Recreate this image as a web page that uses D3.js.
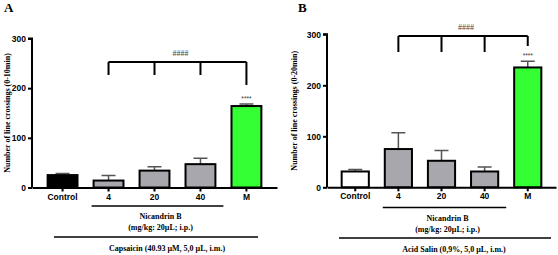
<!DOCTYPE html>
<html>
<head>
<meta charset="utf-8">
<script src="https://cdn.jsdelivr.net/npm/d3@7"></script>
<style>
  body { margin: 0; background: #fff; }
  svg { display: block; }
</style>
</head>
<body>
<script>
const categories = ["Control", "4", "20", "40", "M"];
const yTicks = [0, 100, 200, 300];

// panel A: capsaicin
const valuesA = [25, 14, 34, 47, 164];
const errorsA = [3, 10, 8, 12, 4];
// panel B: acid salin
const valuesB = [31, 75, 52, 31, 235];
const errorsB = [4, 32, 20, 9, 12];

const fills = ["#000000", "#a7a7ad", "#a7a7ad", "#a7a7ad", "#33ff33"];
const fillsB = ["#ffffff", "#a7a7ad", "#a7a7ad", "#a7a7ad", "#33ff33"];

const W = 558, H = 255;
const svg = d3.select("body").append("svg")
    .attr("width", W)
    .attr("height", H);

const sans = "'Liberation Sans', Arial, sans-serif";
const serif = "'Liberation Serif', 'Times New Roman', serif";

function drawPanel(p) {
    const g = svg.append("g");

    const x = d3.scaleBand()
        .domain(categories)
        .range([p.x0, p.x1])
        .paddingInner(p.pi)
        .paddingOuter(p.po);

    const y = d3.scaleLinear()
        .domain([0, 300])
        .range([p.yBottom, p.yTop]);

    // panel letter
    g.append("text")
        .attr("x", p.letterX).attr("y", 12)
        .attr("font-family", serif).attr("font-weight", "bold")
        .attr("font-size", 13)
        .text(p.letter);

    // y axis
    const yAxis = g.append("g")
        .attr("transform", `translate(${p.x0},0)`)
        .call(d3.axisLeft(y).tickValues(yTicks).tickSize(4).tickPadding(2));
    yAxis.select(".domain").attr("stroke-width", 2).attr("d", `M-4,${y(300)}H0V${y(0)}`);
    yAxis.selectAll(".tick line").attr("stroke-width", 2);
    yAxis.selectAll("text")
        .attr("font-family", sans).attr("font-weight", "bold")
        .attr("font-size", 8.5).attr("fill", "#000");

    g.append("text")
        .attr("transform", `translate(${p.yLabelX},${(y(0) + y(300)) / 2}) rotate(-90)`)
        .attr("text-anchor", "middle")
        .attr("font-family", serif).attr("font-weight", "bold")
        .attr("font-size", 8)
        .text(p.yLabel);

    // bars
    const data = categories.map((c, i) => ({ c: c, v: p.values[i], e: p.errors[i], f: p.fills[i] }));

    // error bars (upper only)
    const cx = d => x(d.c) + x.bandwidth() / 2;
    g.selectAll(".err").data(data).enter().append("path")
        .attr("d", d => `M${cx(d)},${y(d.v)}V${y(d.v + d.e)}M${cx(d) - 7},${y(d.v + d.e)}H${cx(d) + 7}`)
        .attr("stroke", "#555").attr("stroke-width", 1.5).attr("fill", "none");

    g.selectAll(".bar").data(data).enter().append("rect")
        .attr("x", d => x(d.c))
        .attr("y", d => y(d.v))
        .attr("width", x.bandwidth())
        .attr("height", d => y(0) - y(d.v))
        .attr("fill", d => d.f)
        .attr("stroke", "#000").attr("stroke-width", 2);

    // x axis
    const xAxis = g.append("g")
        .attr("transform", `translate(0,${y(0)})`)
        .call(d3.axisBottom(x).tickSize(4).tickPadding(2).tickSizeOuter(0));
    xAxis.select(".domain").attr("stroke-width", 2);
    xAxis.selectAll(".tick line").attr("stroke-width", 2);
    xAxis.selectAll("text")
        .attr("font-family", sans).attr("font-weight", "bold")
        .attr("font-size", 8.5).attr("fill", "#000");

    // significance stars over M
    const m = data[4];
    g.append("text")
        .attr("x", cx(m)).attr("y", y(m.v + m.e) - 3)
        .attr("text-anchor", "middle")
        .attr("font-family", sans).attr("font-size", 6.5).attr("fill", "#333")
        .text("****");

    // bracket
    const bx = data.slice(1).map(cx);
    let bp = `M${bx[0]},${p.brY}H${bx[3]}`;
    bx.forEach((v, i) => {
        bp += `M${v},${p.brY}V${i < 3 ? p.brDrop : p.brDropLast}`;
    });
    g.append("path").attr("d", bp)
        .attr("stroke", "#000").attr("stroke-width", 2).attr("fill", "none");
    g.append("text")
        .attr("x", (bx[0] + bx[3]) / 2 + 3).attr("y", p.brY - 6)
        .attr("text-anchor", "middle")
        .attr("font-family", serif).attr("font-size", 8).attr("fill", "#444")
        .text("####");

    // treatment lines / labels
    const n0 = x("4") - 2, n1 = x("40") + x.bandwidth() + 8;
    g.append("line")
        .attr("x1", n0).attr("x2", n1)
        .attr("y1", p.nicY).attr("y2", p.nicY)
        .attr("stroke", "#000").attr("stroke-width", 1.5);
    g.append("text")
        .attr("x", (n0 + n1) / 2 + 3).attr("y", p.nicY + 13)
        .attr("text-anchor", "middle")
        .attr("font-family", serif).attr("font-weight", "bold").attr("font-size", 8)
        .text("Nicandrin B");
    g.append("text")
        .attr("x", (n0 + n1) / 2 + 3).attr("y", p.nicY + 24)
        .attr("text-anchor", "middle")
        .attr("font-family", serif).attr("font-weight", "bold").attr("font-size", 8)
        .text("(mg/kg: 20µL; i.p.)");

    g.append("line")
        .attr("x1", p.longX0).attr("x2", p.longX1)
        .attr("y1", p.longY).attr("y2", p.longY)
        .attr("stroke", "#000").attr("stroke-width", 1.5);
    g.append("text")
        .attr("x", p.bottomX).attr("y", p.longY + 14)
        .attr("text-anchor", "middle")
        .attr("font-family", serif).attr("font-weight", "bold").attr("font-size", 8)
        .text(p.bottomLabel);
}

drawPanel({
    letter: "A", letterX: 4,
    x0: 32, x1: 277, pi: 0.35, po: 0.34,
    yTop: 38.5, yBottom: 187.5,
    yLabelX: 10, yLabel: "Number of line crossings (0-10min)",
    values: valuesA, errors: errorsA, fills: fills,
    brY: 62, brDrop: 75, brDropLast: 85,
    nicY: 206,
    longX0: 54, longX1: 258, longY: 237,
    bottomX: 167, bottomLabel: "Capsaicin (40.93 µM, 5,0 µL, i.m.)"
});

drawPanel({
    letter: "B", letterX: 298,
    x0: 327, x1: 556, pi: 0.37, po: 0.34,
    yTop: 34.3, yBottom: 187.3,
    yLabelX: 297, yLabel: "Number of line crossings (0-20min)",
    values: valuesB, errors: errorsB, fills: fillsB,
    brY: 36, brDrop: 52, brDropLast: 46,
    nicY: 207.5,
    longX0: 339, longX1: 551, longY: 238,
    bottomX: 454, bottomLabel: "Acid Salin (0,9%, 5,0 µL, i.m.)"
});
</script>
</body>
</html>
